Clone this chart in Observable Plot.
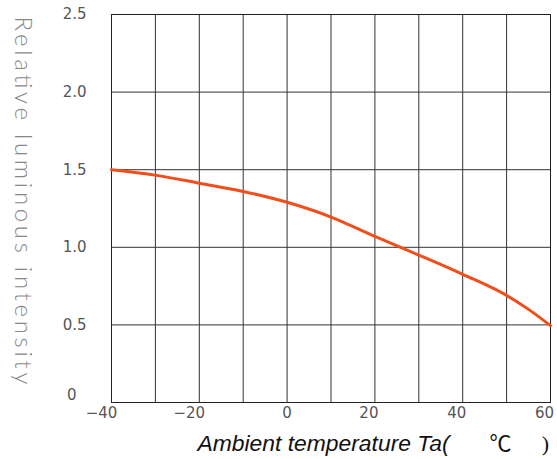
<!DOCTYPE html>
<html><head><meta charset="utf-8">
<script src="https://cdn.jsdelivr.net/npm/d3@7"></script>
<script src="https://cdn.jsdelivr.net/npm/@observablehq/plot@0.6"></script>
<style>
body{margin:0;background:#fff}
#chart svg{display:block}
</style>
</head><body><div id="chart"></div>
<script>
// Data
const temps = [-40, -30, -20, -10, 0, 10, 20, 30, 40, 50, 55, 60];
const intensity = [1.50, 1.465, 1.413, 1.36, 1.29, 1.195, 1.07, 0.95, 0.826, 0.69, 0.60, 0.495];
const xTicksNeg = [-40, -20];
const xTicksZero = [0];
const xTicksPos = [20, 40, 60];
const xGridLines = [-30, -20, -10, 0, 10, 20, 30, 40, 50];
const yTicksZero = [0];
const yTicks = [0.5, 1.0, 1.5, 2.0, 2.5];
const yTickLabels = ["0.5", "1.0", "1.5", "2.0", "2.5"];
const yGridLines = [0.5, 1.0, 1.5, 2.0];
const yTitle = "Relative luminous intensity";
const xTitle = "Ambient temperature Ta(";
const xUnit = "℃";
const xClose = ")";

const data = temps.map((t, i) => ({t, v: intensity[i]}));
const tickStyle = {tickSize: 0, tickPadding: 5, label: null, fill: "#555", fontSize: 15};

const chart = Plot.plot({
  width: 557,
  height: 459,
  marginLeft: 111,
  marginRight: 7,
  marginTop: 14,
  marginBottom: 57,
  style: {fontFamily: "DejaVu Sans", fontSize: "14px", color: "#555", background: "#fff"},
  x: {domain: [-40, 60]},
  y: {domain: [0, 2.5]},
  marks: [
    Plot.ruleX(xGridLines, {stroke: "#333", strokeWidth: 1}),
    Plot.ruleY(yGridLines, {stroke: "#333", strokeWidth: 1}),
    Plot.frame({stroke: "#222", strokeWidth: 1}),
    Plot.line(data, {x: "t", y: "v", stroke: "#f24e1c", strokeWidth: 3, curve: "monotone-x"}),
    Plot.axisX(xTicksNeg, {...tickStyle, dx: -10}),
    Plot.axisX(xTicksZero, {...tickStyle}),
    Plot.axisX(xTicksPos, {...tickStyle, dx: -6}),
    Plot.axisY(yTicks, {tickSize: 0, tickPadding: 25, label: null, fill: "#555", fontSize: 15,
      tickFormat: (d) => yTickLabels[yTicks.indexOf(d)]}),
    Plot.axisY(yTicksZero, {tickSize: 0, tickPadding: 35, label: null, fill: "#555", fontSize: 15, dy: -7,
      tickFormat: () => "0"}),
    Plot.text([yTitle], {frameAnchor: "left", dx: -89, dy: -8, rotate: 90, fontSize: 24, textAnchor: "middle",
      fill: "#888", fontFamily: "Lato", fontWeight: 300}),
    Plot.text([xTitle], {frameAnchor: "bottom-left", dx: 86, dy: 41, textAnchor: "start",
      lineAnchor: "middle", fontSize: 22, fill: "#111", fontFamily: "Liberation Sans", fontStyle: "italic"}),
    Plot.text([xUnit], {frameAnchor: "bottom-left", dx: 389, dy: 41, textAnchor: "middle",
      lineAnchor: "middle", fontSize: 22, fill: "#111", fontFamily: "Noto Sans CJK JP"}),
    Plot.text([xClose], {frameAnchor: "bottom-left", dx: 434, dy: 41, textAnchor: "middle",
      lineAnchor: "middle", fontSize: 22, fill: "#111", fontFamily: "Liberation Serif"})
  ]
});
document.getElementById("chart").appendChild(chart);

// Spread the titles to the reference's lengths
d3.select(chart).selectAll("text").each(function() {
  const s = this.textContent;
  if (s === yTitle) { this.setAttribute("textLength", 368); this.setAttribute("lengthAdjust", "spacing"); }
  if (s === xTitle) { this.setAttribute("textLength", 252); this.setAttribute("lengthAdjust", "spacingAndGlyphs"); }
});
</script>
</body></html>
